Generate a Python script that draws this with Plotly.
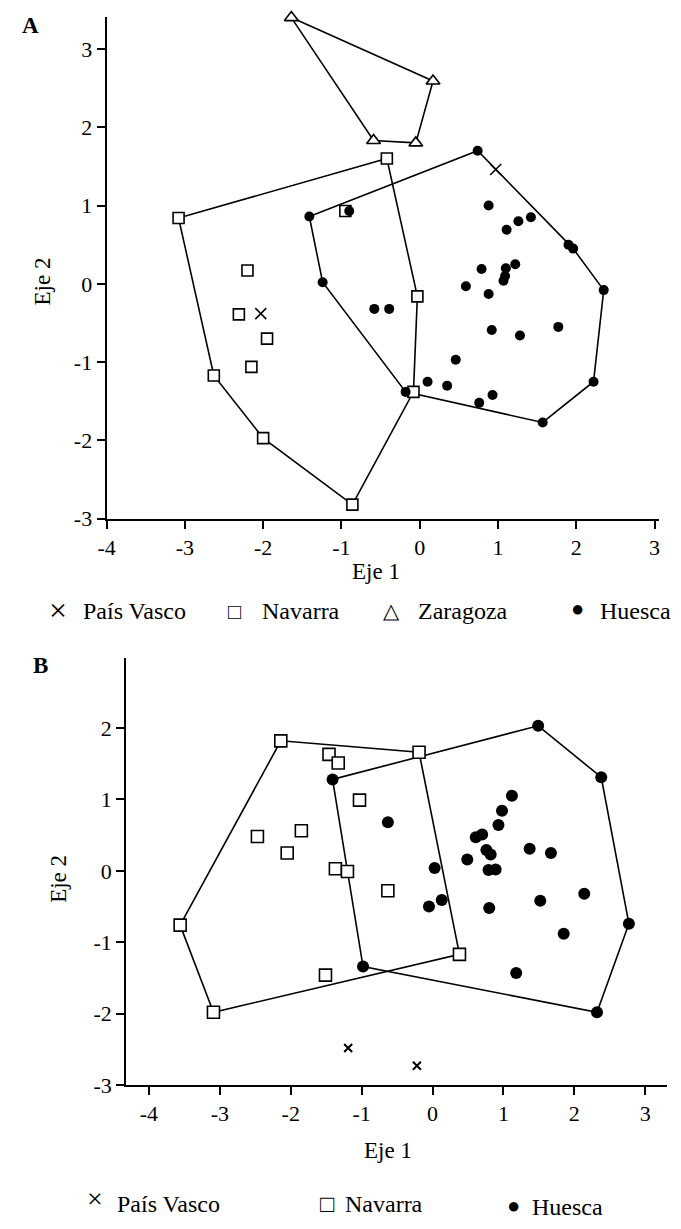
import plotly.graph_objects as go

# ---- Panel A data (Eje 1, Eje 2) ----
a_pv_x = [-2.03, 0.97]
a_pv_y = [-0.38, 1.46]

a_nav_x = [-3.08, -2.20, -0.42, -0.95, -0.03, -0.08, -0.86, -2.31, -1.95, -2.15, -2.63, -2.00]
a_nav_y = [0.84, 0.17, 1.60, 0.93, -0.16, -1.38, -2.82, -0.39, -0.70, -1.06, -1.17, -1.97]
a_nav_hull = [0, 2, 4, 5, 6, 11, 10, 0]

a_zar_x = [-1.64, 0.17, -0.05, -0.59]
a_zar_y = [3.40, 2.59, 1.80, 1.83]
a_zar_hull = [0, 1, 2, 3, 0]

a_hue_x = [-1.41, -1.24, -0.90, 0.74, 0.88, 1.11, 1.26, 1.42, 1.90, 1.96, 2.35,
           0.79, 1.10, 1.22, 1.09, 1.07, 0.59, 0.88, -0.58, -0.39, 0.92, 1.28,
           1.77, 0.46, 0.10, 0.35, -0.18, 0.93, 0.76, 1.57, 2.22]
a_hue_y = [0.86, 0.02, 0.93, 1.70, 1.00, 0.69, 0.80, 0.85, 0.50, 0.45, -0.08,
           0.19, 0.20, 0.25, 0.10, 0.04, -0.03, -0.13, -0.32, -0.32, -0.59, -0.66,
           -0.55, -0.97, -1.25, -1.30, -1.38, -1.42, -1.52, -1.77, -1.25]
a_hue_hull = [0, 3, 9, 10, 30, 29, 26, 1, 0]

# ---- Panel B data ----
b_pv_x = [-1.19, -0.22]
b_pv_y = [-2.48, -2.73]

b_nav_x = [-3.56, -2.14, -1.46, -1.33, -0.19, -1.03, -2.47, -1.85, -2.05, -1.37, -1.20, -0.63, -1.51, -3.09, 0.38]
b_nav_y = [-0.76, 1.82, 1.63, 1.51, 1.66, 0.99, 0.48, 0.56, 0.25, 0.03, -0.01, -0.28, -1.46, -1.98, -1.17]
b_nav_hull = [0, 1, 4, 14, 13, 0]

b_hue_x = [-1.41, 1.49, 2.38, 2.77, 2.32, -0.98, -0.63, 1.12, 0.98, 0.93, 0.61, 0.70, 0.76, 0.82,
           0.49, 1.37, 1.67, 0.79, 0.89, 0.03, 2.14, 1.52, 0.13, -0.05, 0.80, 1.85, 1.18]
b_hue_y = [1.28, 2.03, 1.31, -0.74, -1.98, -1.34, 0.68, 1.05, 0.84, 0.64, 0.47, 0.51, 0.29, 0.23,
           0.16, 0.31, 0.25, 0.01, 0.02, 0.04, -0.32, -0.42, -0.41, -0.50, -0.52, -0.88, -1.43]
b_hue_hull = [0, 1, 2, 3, 4, 5, 0]

tick_vals_a_x = [-4, -3, -2, -1, 0, 1, 2, 3]
tick_vals_a_y = [-3, -2, -1, 0, 1, 2, 3]
tick_vals_b_x = [-4, -3, -2, -1, 0, 1, 2, 3]
tick_vals_b_y = [-3, -2, -1, 0, 1, 2]

FONT = "Liberation Serif, Times New Roman, serif"
W, H = 681, 1229


def hull(xs, ys, order):
    return [xs[i] for i in order], [ys[i] for i in order]


def line_trace(xs, ys, order, xa, ya):
    hx, hy = hull(xs, ys, order)
    return go.Scatter(x=hx, y=hy, mode="lines", xaxis=xa, yaxis=ya,
                      line=dict(color="black", width=1.6), showlegend=False,
                      hoverinfo="skip", cliponaxis=False)


fig = go.Figure()

# Panel A
fig.add_trace(line_trace(a_nav_x, a_nav_y, a_nav_hull, "x", "y"))
fig.add_trace(line_trace(a_zar_x, a_zar_y, a_zar_hull, "x", "y"))
fig.add_trace(line_trace(a_hue_x, a_hue_y, a_hue_hull, "x", "y"))
fig.add_trace(go.Scatter(x=a_nav_x, y=a_nav_y, mode="markers", name="Navarra",
                         marker=dict(symbol="square", size=11, color="white",
                                     line=dict(color="black", width=1.6)),
                         showlegend=False, cliponaxis=False))
fig.add_trace(go.Scatter(x=a_zar_x, y=a_zar_y, mode="markers", name="Zaragoza",
                         marker=dict(symbol="triangle-up", size=12, color="white",
                                     line=dict(color="black", width=1.6)),
                         showlegend=False, cliponaxis=False))
fig.add_trace(go.Scatter(x=a_pv_x, y=a_pv_y, mode="markers", name="País Vasco",
                         marker=dict(symbol="x-thin-open", size=11, color="black",
                                     line=dict(color="black", width=1.5)),
                         showlegend=False, cliponaxis=False))
fig.add_trace(go.Scatter(x=a_hue_x, y=a_hue_y, mode="markers", name="Huesca",
                         marker=dict(symbol="circle", size=10, color="black"),
                         showlegend=False, cliponaxis=False))

# Panel B
fig.add_trace(line_trace(b_nav_x, b_nav_y, b_nav_hull, "x2", "y2"))
fig.add_trace(line_trace(b_hue_x, b_hue_y, b_hue_hull, "x2", "y2"))
fig.add_trace(go.Scatter(x=b_nav_x, y=b_nav_y, mode="markers", name="Navarra",
                         xaxis="x2", yaxis="y2",
                         marker=dict(symbol="square", size=12, color="white",
                                     line=dict(color="black", width=1.6)),
                         showlegend=False, cliponaxis=False))
fig.add_trace(go.Scatter(x=b_pv_x, y=b_pv_y, mode="markers", name="País Vasco",
                         xaxis="x2", yaxis="y2",
                         marker=dict(symbol="x-thin-open", size=8, color="black",
                                     line=dict(color="black", width=2)),
                         showlegend=False, cliponaxis=False))
fig.add_trace(go.Scatter(x=b_hue_x, y=b_hue_y, mode="markers", name="Huesca",
                         xaxis="x2", yaxis="y2",
                         marker=dict(symbol="circle", size=12, color="black"),
                         showlegend=False, cliponaxis=False))

axis_style = dict(showline=True, linecolor="black", linewidth=2, ticks="outside",
                  ticklen=8, tickwidth=1.6, tickcolor="black", showgrid=False,
                  zeroline=False, tickfont=dict(family=FONT, size=22, color="black"))


def labels(vals):
    return [str(v) for v in vals]


fig.update_layout(
    width=W, height=H,
    margin=dict(l=0, r=0, t=0, b=0),
    paper_bgcolor="white", plot_bgcolor="white",
    xaxis=dict(domain=[99 / W, 660 / W], range=[-4, 3.06], anchor="y",
               tickvals=tick_vals_a_x, ticktext=labels(tick_vals_a_x), **axis_style),
    yaxis=dict(domain=[1 - 524.3 / H, 1 - 17 / H], range=[-3, 3.41], anchor="x",
               tickvals=tick_vals_a_y, ticktext=labels(tick_vals_a_y), **axis_style),
    xaxis2=dict(domain=[119 / W, 668 / W], range=[-4.32, 3.31], anchor="y2",
                tickvals=tick_vals_b_x, ticktext=labels(tick_vals_b_x), **axis_style),
    yaxis2=dict(domain=[1 - 1096.7 / H, 1 - 665 / H], range=[-3, 2.98], anchor="x2",
                tickvals=tick_vals_b_y, ticktext=labels(tick_vals_b_y), **axis_style),
)


def note(text, px, py, size=23, xanchor="center", angle=0, bold=False):
    t = f"<b>{text}</b>" if bold else text
    fig.add_annotation(text=t, x=px / W, y=1 - py / H, xref="paper", yref="paper",
                       xanchor=xanchor, yanchor="middle", showarrow=False,
                       textangle=angle, borderpad=0,
                       font=dict(family=FONT, size=size, color="black"))


# panel letters and axis titles
note("A", 21.7, 26, size=23, bold=True)
note("B", 31.7, 673, size=23, bold=True)
note("Eje 1", 372, 578)
note("Eje 2", 35, 284, angle=-90)
note("Eje 1", 385, 1163)
note("Eje 2", 50, 888, angle=-90)

# legend A
note("×", 50, 617, size=32)
note("País Vasco", 74, 618, size=24, xanchor="left")
note("□", 229, 618, size=22)
note("Navarra", 256, 618, size=24, xanchor="left")
note("△", 388, 618, size=21)
note("Zaragoza", 414, 618, size=24, xanchor="left")
note("●", 577, 615, size=22)
note("Huesca", 599, 618, size=24, xanchor="left")

# legend B
note("×", 87, 1211, size=28)
note("País Vasco", 109, 1217, size=24, xanchor="left")
note("□", 323, 1217, size=24)
note("Navarra", 340, 1217, size=24, xanchor="left")
note("●", 512, 1218, size=22)
note("Huesca", 530, 1220, size=24, xanchor="left")

# the page body has a default 8px margin; remove it so the figure sits at 0,0
fig.write_html("out.html", config={"displayModeBar": False},
               post_script="document.body.style.margin='0';")
